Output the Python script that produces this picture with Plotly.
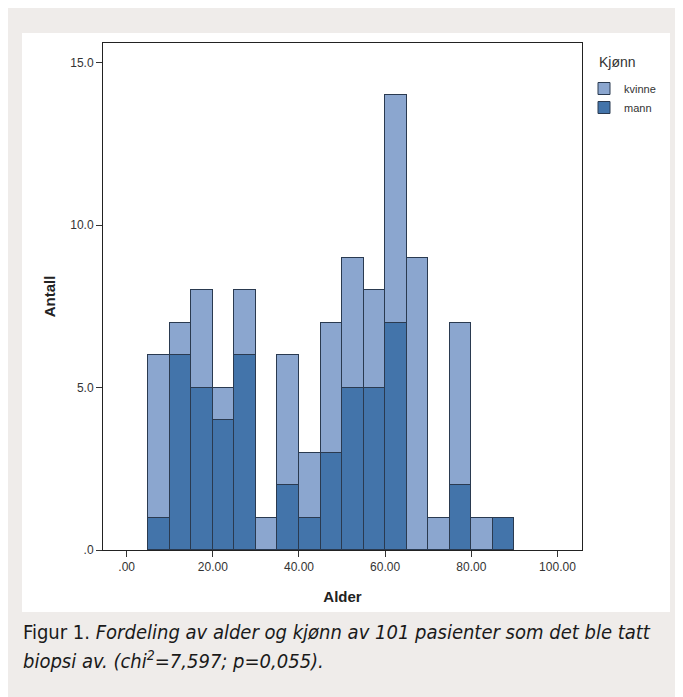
import plotly.graph_objects as go

# Data: 5-year age bins (lower edges), counts per sex
bin_lower = [5, 10, 15, 20, 25, 30, 35, 40, 45, 50, 55, 60, 65, 70, 75, 80, 85]
bin_width = 5
total = [6, 7, 8, 5, 8, 1, 6, 3, 7, 9, 8, 14, 9, 1, 7, 1, 1]
mann = [1, 6, 5, 4, 6, 0, 2, 1, 3, 5, 5, 7, 0, 0, 2, 0, 1]
kvinne = [t - m for t, m in zip(total, mann)]

x_ticks = [0, 20, 40, 60, 80, 100]
x_ticklabels = [".00", "20.00", "40.00", "60.00", "80.00", "100.00"]
y_ticks = [0, 5, 10, 15]
y_ticklabels = [".0", "5.0", "10.0", "15.0"]

centers = [b + bin_width / 2 for b in bin_lower]
nz = lambda v: [None if c == 0 else c for c in v]

C_K = "#8BA6CF"
C_M = "#4374AA"
EDGE = "#2A3A50"

fig = go.Figure()
fig.add_trace(go.Bar(x=centers, y=nz(mann), width=bin_width, name="mann",
                     marker=dict(color=C_M, line=dict(color=EDGE, width=1))))
fig.add_trace(go.Bar(x=centers, y=nz(kvinne), width=bin_width, name="kvinne",
                     marker=dict(color=C_K, line=dict(color=EDGE, width=1))))

# page offset (browser body margin) and target positions in screen pixels
OFF = 8
SW, SH = 683, 697
L, T, R, B = 103, 43, 582, 550
W, H = SW - OFF, SH - OFF
pw, ph = R - L, B - T
px = lambda v: (v - L) / pw
py = lambda v: (B - v) / ph

shapes = [
    dict(type="rect", xref="paper", yref="paper", layer="below",
         x0=px(0), x1=px(720), y0=py(720), y1=py(0),
         fillcolor="#EFECEA", line=dict(width=0)),
    dict(type="rect", xref="paper", yref="paper", layer="below",
         x0=px(22), x1=px(670), y0=py(612), y1=py(33),
         fillcolor="#FFFFFF", line=dict(width=0)),
]

tickfont = dict(family="Liberation Sans, Arial, sans-serif", size=12, color="#333333")
fig.update_layout(
    width=W, height=H,
    margin=dict(l=L - OFF, r=SW - R, t=T - OFF, b=SH - B, pad=0),
    paper_bgcolor="#EFECEA",
    plot_bgcolor="#ECECEC",
    barmode="stack",
    bargap=0,
    shapes=shapes,
    showlegend=True,
    legend=dict(
        x=px(584), y=py(74), xanchor="left", yanchor="top",
        traceorder="reversed",
        bgcolor="rgba(0,0,0,0)",
        font=dict(family="Liberation Sans, Arial, sans-serif", size=11, color="#333333"),
        itemwidth=30, tracegroupgap=0,
    ),
    xaxis=dict(
        range=[-5.5, 105.7], tickvals=x_ticks, ticktext=x_ticklabels,
        ticks="outside", ticklen=6, tickcolor="#333333", tickfont=tickfont,
        showline=True, linecolor="#222222", linewidth=1, mirror=True,
        showgrid=False, zeroline=False,
        title=dict(text="<b>Alder</b>", standoff=18,
                   font=dict(family="Liberation Sans, Arial, sans-serif", size=15, color="#222222")),
    ),
    yaxis=dict(
        range=[0, 15.6], tickvals=y_ticks, ticktext=y_ticklabels,
        ticks="outside", ticklen=6, tickcolor="#333333", tickfont=tickfont,
        showline=True, linecolor="#222222", linewidth=1, mirror=True,
        showgrid=False, zeroline=False,
        title=dict(text="<b>Antall</b>", standoff=10,
                   font=dict(family="Liberation Sans, Arial, sans-serif", size=15, color="#222222")),
    ),
)

fig.add_annotation(xref="paper", yref="paper", x=px(597), y=py(62), xanchor="left", yanchor="middle",
                   showarrow=False, text="Kjønn",
                   font=dict(family="Liberation Sans, Arial, sans-serif", size=14, color="#333333"))

capfont = dict(family="Liberation Sans Narrow, DejaVu Sans Condensed, sans-serif", size=20, color="#1A1A1A")
fig.add_annotation(xref="paper", yref="paper", x=px(21), y=py(632), xanchor="left", yanchor="middle",
                   showarrow=False, font=capfont,
                   text="Figur 1. <i>Fordeling av alder og kjønn av 101 pasienter som det ble tatt</i>")
fig.add_annotation(xref="paper", yref="paper", x=px(21), y=py(660), xanchor="left", yanchor="middle",
                   showarrow=False, font=capfont,
                   text="<i>biopsi av. (chi<sup>2</sup>=7,597; p=0,055).</i>")

fig.write_html("out.html")
